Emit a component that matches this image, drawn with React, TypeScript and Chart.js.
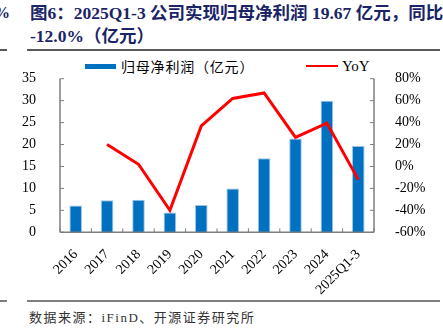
import React, { useEffect, useRef } from "react";
import { Chart, registerables } from "chart.js";

Chart.register(...registerables);

const categories = ["2016", "2017", "2018", "2019", "2020", "2021", "2022", "2023", "2024", "2025Q1-3"];
const profit = [6.1, 7.3, 7.4, 4.5, 6.2, 10.0, 16.9, 21.4, 30.0, 19.67];
const yoy = [null, 20, 2, -40, 37, 62, 67, 26.5, 39.5, -12.0];
const leftTicks = [0, 5, 10, 15, 20, 25, 30, 35];
const rightTicks = [-60, -40, -20, 0, 20, 40, 60, 80];

const SERIF = '"Liberation Serif", "Times New Roman", "Noto Sans CJK SC", serif';
const CJK = '"Liberation Serif", "Noto Sans CJK SC", serif';
const AXIS_COLOR = "#7f7f7f";

const inwardTicks = {
  id: "inwardTicks",
  afterDatasetsDraw(chart: any) {
    const { ctx, chartArea } = chart;
    const yL = chart.scales.y;
    const yR = chart.scales.y1;
    const x = chart.scales.x;
    ctx.save();
    ctx.strokeStyle = AXIS_COLOR;
    ctx.lineWidth = 1.5;
    ctx.beginPath();
    ctx.moveTo(chartArea.left, chartArea.top);
    ctx.lineTo(chartArea.left, chartArea.bottom);
    ctx.moveTo(chartArea.right, chartArea.top);
    ctx.lineTo(chartArea.right, chartArea.bottom);
    ctx.moveTo(chartArea.left, chartArea.bottom);
    ctx.lineTo(chartArea.right, chartArea.bottom);
    ctx.stroke();
    ctx.lineWidth = 1;
    ctx.beginPath();
    leftTicks.forEach((v) => {
      const py = yL.getPixelForValue(v);
      ctx.moveTo(chartArea.left, py);
      ctx.lineTo(chartArea.left + 4, py);
    });
    rightTicks.forEach((v) => {
      const py = yR.getPixelForValue(v);
      ctx.moveTo(chartArea.right, py);
      ctx.lineTo(chartArea.right - 4, py);
    });
    for (let i = 0; i <= categories.length; i++) {
      const px = x.getPixelForValue(i - 0.5);
      ctx.moveTo(px, chartArea.bottom);
      ctx.lineTo(px, chartArea.bottom - 4);
    }
    ctx.stroke();
    ctx.restore();
  },
};

export default function App() {
  const ref = useRef<HTMLCanvasElement>(null);

  useEffect(() => {
    if (!ref.current) return;
    const chart = new Chart(ref.current, {
      type: "bar",
      data: {
        labels: categories,
        datasets: [
          {
            type: "line",
            label: "YoY",
            data: yoy as any,
            yAxisID: "y1",
            borderColor: "#FF0000",
            backgroundColor: "#FF0000",
            borderWidth: 3,
            pointRadius: 0,
            tension: 0,
            order: 0,
          } as any,
          {
            type: "bar",
            label: "归母净利润（亿元）",
            data: profit,
            yAxisID: "y",
            backgroundColor: "#0070C0",
            borderColor: "#9DC3E6",
            borderWidth: 1,
            barPercentage: 0.8,
            categoryPercentage: 0.5,
            order: 1,
          },
        ],
      },
      options: {
        animation: false,
        responsive: false,
        maintainAspectRatio: false,
        layout: { padding: { top: 28.7, left: 0, right: 0, bottom: 0 } },
        plugins: { legend: { display: false }, tooltip: { enabled: false } },
        scales: {
          x: {
            grid: { display: false },
            border: { display: false },
            ticks: {
              color: "#000",
              font: { family: SERIF, size: 14 },
              minRotation: 45,
              maxRotation: 45,
              padding: 6,
              autoSkip: false,
            },
            afterFit: (s: any) => {
              s.height = 67.7;
            },
          },
          y: {
            position: "left",
            min: 0,
            max: 35,
            grid: { display: false },
            border: { display: false },
            ticks: {
              stepSize: 5,
              color: "#000",
              font: { family: SERIF, size: 14 },
              padding: 16,
            },
            afterFit: (s: any) => {
              s.width = 60;
            },
          },
          y1: {
            position: "right",
            min: -60,
            max: 80,
            grid: { display: false },
            border: { display: false },
            ticks: {
              stepSize: 20,
              color: "#000",
              font: { family: SERIF, size: 14 },
              padding: 13,
              callback: (v: any) => `${v}%`,
            },
            afterFit: (s: any) => {
              s.width = 69;
            },
          },
        },
      },
      plugins: [inwardTicks],
    });
    return () => chart.destroy();
  }, []);

  return (
    <div
      style={{
        position: "fixed",
        left: 0,
        top: 0,
        width: 443,
        height: 336,
        background: "#fff",
        overflow: "hidden",
      }}
    >
      <div
        style={{
          position: "absolute",
          left: -6,
          top: 4,
          fontFamily: CJK,
          fontWeight: "bold",
          fontSize: 16,
          color: "#1a2466",
        }}
      >
        %
      </div>
      <div
        style={{
          position: "absolute",
          left: 30,
          top: 2,
          width: 420,
          fontFamily: CJK,
          fontWeight: "bold",
          fontSize: 17.5,
          lineHeight: "23px",
          color: "#1a2466",
          whiteSpace: "nowrap",
        }}
      >
        <div>图6：2025Q1-3 公司实现归母净利润 19.67 亿元，同比</div>
        <div>-12.0%（亿元）</div>
      </div>
      <div style={{ position: "absolute", left: 0, top: 49, width: 7, height: 1.5, background: "#595959" }} />
      <div style={{ position: "absolute", left: 27, top: 49, width: 413, height: 1.5, background: "#595959" }} />

      <div
        style={{
          position: "absolute",
          left: 85,
          top: 62,
          display: "flex",
          alignItems: "center",
          fontFamily: CJK,
          fontSize: 14,
          letterSpacing: 0.8,
          color: "#000",
          height: 8,
        }}
      >
        <span style={{ display: "inline-block", width: 31, height: 5, background: "#0070C0", marginRight: 5 }} />
        <span>归母净利润（亿元）</span>
      </div>
      <div
        style={{
          position: "absolute",
          left: 306,
          top: 62,
          display: "flex",
          alignItems: "center",
          fontFamily: SERIF,
          fontSize: 15,
          color: "#000",
          height: 8,
        }}
      >
        <span style={{ display: "inline-block", width: 32, height: 2.5, background: "#FF0000", marginRight: 4 }} />
        <span>YoY</span>
      </div>

      <canvas
        ref={ref}
        width={443}
        height={250}
        style={{ position: "absolute", left: 0, top: 50, width: 443, height: 250 }}
      />

      <div style={{ position: "absolute", left: 0, top: 300, width: 7, height: 1.5, background: "#7f7f7f" }} />
      <div style={{ position: "absolute", left: 27, top: 300, width: 413, height: 1.5, background: "#7f7f7f" }} />
      <div
        style={{
          position: "absolute",
          left: 29,
          top: 307,
          fontFamily: CJK,
          fontSize: 13,
          letterSpacing: 1.5,
          color: "#333",
          whiteSpace: "nowrap",
        }}
      >
        数据来源：iFinD、开源证券研究所
      </div>
    </div>
  );
}
